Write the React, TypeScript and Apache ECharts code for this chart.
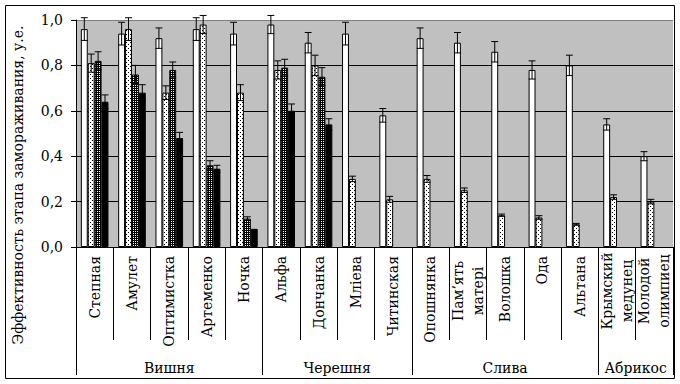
import { useEffect, useRef } from 'react';
import * as echarts from 'echarts';

const categories = [
  'Степная', 'Амулет', 'Оптимистка', 'Артеменко', 'Ночка',
  'Альфа', 'Дончанка', 'Млiева', 'Читинская',
  'Опошнянка', 'Пам\u2019ять\nматерi', 'Волошка', 'Ода', 'Альтана',
  'Крымский\nмедунец', 'Молодой\nолимпиец',
];
const groups = ['Вишня', 'Черешня', 'Слива', 'Абрикос'];
const groupBounds = [0, 5, 9, 14, 16];
const groupCenters = [2.5, 7, 11.5, 15];

const s1 = [0.96, 0.94, 0.92, 0.96, 0.94, 0.98, 0.90, 0.94, 0.58, 0.92, 0.90, 0.86, 0.78, 0.80, 0.54, 0.40];
const e1 = [0.05, 0.05, 0.045, 0.05, 0.05, 0.04, 0.045, 0.05, 0.03, 0.045, 0.045, 0.045, 0.04, 0.045, 0.025, 0.02];
const s2 = [0.81, 0.96, 0.68, 0.98, 0.68, 0.78, 0.80, 0.30, 0.21, 0.30, 0.25, 0.14, 0.13, 0.10, 0.22, 0.20];
const e2 = [0.04, 0.05, 0.03, 0.04, 0.035, 0.04, 0.045, 0.012, 0.013, 0.015, 0.01, 0.005, 0.008, 0.004, 0.01, 0.01];
const s3 = [0.82, 0.76, 0.78, 0.36, 0.125, 0.79, 0.75, null, null, null, null, null, null, null, null, null];
const e3 = [0.04, 0.04, 0.035, 0.02, 0.008, 0.037, 0.04, 0, 0, 0, 0, 0, 0, 0, 0, 0];
const s4 = [0.64, 0.68, 0.48, 0.345, 0.08, 0.60, 0.54, null, null, null, null, null, null, null, null, null];
const e4 = [0.03, 0.035, 0.025, 0.015, 0, 0.03, 0.025, 0, 0, 0, 0, 0, 0, 0, 0, 0];

const yAxisTitle = 'Эффективность этапа замораживания, у.е.';
const FONT = 'DejaVu Serif';
const FS = 14;
const CAT_GAP = 0.26;

function makePattern(w: number, h: number, bg: string, fg: string, pts: number[][]) {
  const c = document.createElement('canvas');
  c.width = w;
  c.height = h;
  const ctx = c.getContext('2d')!;
  ctx.fillStyle = bg;
  ctx.fillRect(0, 0, w, h);
  ctx.fillStyle = fg;
  pts.forEach(([x, y]) => ctx.fillRect(x, y, 1, 1));
  return { image: c.toDataURL(), repeat: 'repeat', imageWidth: w, imageHeight: h };
}

export default function App() {
  const ref = useRef<HTMLDivElement>(null);
  useEffect(() => {
    if (!ref.current) return;
    const chart = echarts.init(ref.current, undefined, { renderer: 'svg' });
    const dotted = makePattern(4, 4, '#ffffff', '#000000', [[0, 0], [2, 2]]);
    const checker = makePattern(2, 2, '#000000', '#ffffff', [[1, 1]]);
    const seriesVals = [s1, s2, s3, s4];
    const seriesErrs = [e1, e2, e3, e4];
    const colors: any[] = ['#ffffff', dotted, checker, '#000000'];
    const errData: number[][] = [];
    seriesVals.forEach((arr, si) => {
      arr.forEach((v, i) => {
        const e = seriesErrs[si][i];
        if (v != null && e > 0) errData.push([i, si, v, e]);
      });
    });
    const fmtCat = (v: string) => {
      if (v.indexOf('\n') < 0) return v;
      return v.split('\n').map((p) => `{c|${p}}`).join('\n');
    };
    chart.setOption({
      animation: false,
      backgroundColor: '#ffffff',
      textStyle: { fontFamily: FONT },
      grid: {
        left: 76, right: 7, top: 20, bottom: 137,
        show: true, backgroundColor: '#c0c0c0', borderWidth: 0,
      },
      xAxis: [
        {
          type: 'category',
          data: categories,
          axisLine: { lineStyle: { color: '#000', width: 1 } },
          axisTick: { show: true, interval: 0, length: 93, lineStyle: { color: '#000' } },
          axisLabel: {
            interval: 0, rotate: 90, margin: 9,
            color: '#000', fontSize: FS, fontFamily: FONT,
            formatter: fmtCat,
            rich: { c: { width: 70, align: 'center', lineHeight: 20, fontSize: FS, fontFamily: FONT, color: '#000' } },
          },
          splitLine: { show: false },
        },
        {
          type: 'value',
          min: 0, max: 16,
          position: 'bottom',
          gridIndex: 0,
          axisLine: { show: false },
          splitLine: { show: false },
          axisTick: { show: true, length: 128, customValues: groupBounds, lineStyle: { color: '#000' } },
          axisLabel: {
            show: true, margin: 114, customValues: groupCenters,
            color: '#000', fontSize: FS, fontFamily: FONT,
            formatter: (v: number) => {
              const k = groupCenters.indexOf(v);
              return k >= 0 ? groups[k] : '';
            },
          },
        },
      ],
      yAxis: {
        type: 'value', min: 0, max: 1, interval: 0.2,
        axisLine: { show: true, lineStyle: { color: '#000' } },
        axisTick: { show: true, length: 5, lineStyle: { color: '#000' } },
        axisLabel: {
          margin: 13, color: '#000', fontSize: FS, fontFamily: FONT,
          formatter: (v: number) => v.toFixed(1).replace('.', ','),
        },
        splitLine: { show: true, lineStyle: { color: ['#000', '#000', '#000', '#000', '#000', '#808080'], width: 1 } },
      },
      graphic: [
        {
          type: 'rect', shape: { x: 5.5, y: 5.5, width: 669, height: 373 },
          style: { fill: 'none', stroke: '#000', lineWidth: 1 }, silent: true, z: 100,
        },
        {
          type: 'text', x: 18, y: 185, rotation: Math.PI / 2,
          style: {
            text: yAxisTitle, align: 'center', verticalAlign: 'middle', fill: '#000',
            fontSize: FS, fontFamily: FONT,
          },
        },
      ],
      series: [
        ...seriesVals.map((arr, si) => ({
          type: 'bar',
          name: `s${si + 1}`,
          data: arr.map((v) => (v == null ? '-' : v)),
          barGap: '0%',
          barCategoryGap: `${CAT_GAP * 100}%`,
          itemStyle: { color: colors[si], borderColor: '#000', borderWidth: 1 },
        })),
        {
          type: 'custom',
          name: 'err',
          clip: false,
          z: 10,
          data: errData,
          encode: { x: 0, y: 2 },
          renderItem: (params: any, api: any) => {
            const cat = api.value(0);
            const si = api.value(1);
            const v = api.value(2);
            const e = api.value(3);
            const band = api.size([1, 0])[0];
            const groupW = band * (1 - CAT_GAP);
            const bw = groupW / 4;
            const cx = api.coord([cat, 0])[0] - groupW / 2 + bw * (si + 0.5);
            const yTop = api.coord([cat, v + e])[1];
            const yBot = api.coord([cat, v - e])[1];
            const h = bw / 2;
            const st = { stroke: '#000', lineWidth: 1 };
            return {
              type: 'group',
              children: [
                { type: 'line', shape: { x1: cx, y1: yTop, x2: cx, y2: yBot }, style: st },
                { type: 'line', shape: { x1: cx - h, y1: yTop, x2: cx + h, y2: yTop }, style: st },
                { type: 'line', shape: { x1: cx - h, y1: yBot, x2: cx + h, y2: yBot }, style: st },
              ],
            };
          },
        },
      ],
    });
    return () => chart.dispose();
  }, []);
  return (
    <div
      ref={ref}
      style={{ position: 'absolute', left: 0, top: 0, width: 680, height: 384, background: '#fff' }}
    />
  );
}
